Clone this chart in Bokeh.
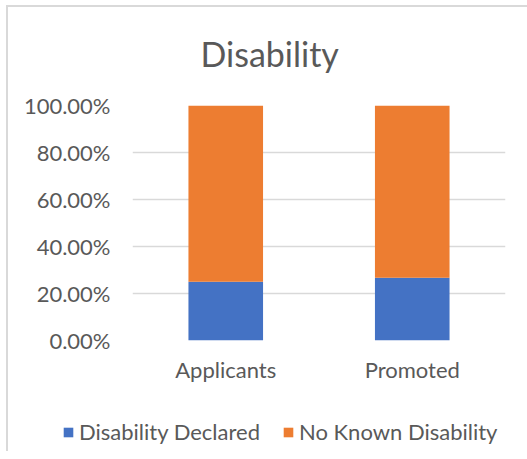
from bokeh.plotting import figure
from bokeh.layouts import column, row
from bokeh.models import NumeralTickFormatter, Legend, LegendItem, FixedTicker, Range1d, Label
from bokeh.embed import file_html
from bokeh.resources import INLINE

categories = ["Applicants", "Promoted"]
declared = [0.25, 0.267]
no_known = [0.75, 0.733]
series = ["Disability Declared", "No Known Disability"]
colors = ["#4472C4", "#ED7D31"]
y_ticks = [0, 0.2, 0.4, 0.6, 0.8, 1.0]
title_text = "Disability"

FONT = "Lato"
TXT = "#595959"

data = {"cat": categories, "Disability Declared": declared, "No Known Disability": no_known}

# title strip
pt = figure(x_range=Range1d(0, 1), y_range=Range1d(0, 1), width=519, height=70,
            output_backend="svg", toolbar_location=None,
            min_border=0, min_border_left=0, min_border_right=0,
            min_border_top=0, min_border_bottom=0, outline_line_color=None)
pt.axis.visible = False
pt.grid.visible = False
pt.add_layout(Label(x=192, y=24, x_units="screen", y_units="screen", text=title_text,
                    text_font=FONT, text_font_size="34px", text_color=TXT,
                    text_align="left", text_baseline="middle"))

# main chart
p = figure(x_range=categories, y_range=Range1d(0, 1), width=519, height=323,
           output_backend="svg", toolbar_location=None,
           min_border_left=124, min_border_right=22, min_border_top=28, min_border_bottom=60)

p.vbar_stack(series, x="cat", width=0.4, color=colors, source=data, line_color=None)

p.outline_line_color = None
p.xgrid.grid_line_color = None
p.ygrid.grid_line_color = "#d9d9d9"
p.ygrid.grid_line_width = 1.5
p.yaxis.ticker = FixedTicker(ticks=y_ticks)
p.yaxis.formatter = NumeralTickFormatter(format="0.00%")

for ax in (p.xaxis, p.yaxis):
    ax.axis_line_color = None
    ax.major_tick_line_color = None
    ax.minor_tick_line_color = None
    ax.major_label_text_font = FONT
    ax.major_label_text_font_size = "22px"
    ax.major_label_text_color = TXT
p.yaxis.major_label_standoff = 16
p.xaxis.major_label_standoff = 9

# legend strip below the chart
pl = figure(x_range=categories, y_range=Range1d(10, 11), width=519, height=51,
            output_backend="svg", toolbar_location=None,
            min_border=0, min_border_left=0, min_border_right=0,
            min_border_top=0, min_border_bottom=0, outline_line_color=None)
pl.axis.visible = False
pl.grid.visible = False
leg_renderers = pl.vbar_stack(series, x="cat", width=0.4, color=colors, source=data, line_color=None)

legend = Legend(items=[LegendItem(label=s, renderers=[r]) for s, r in zip(series, leg_renderers)],
                orientation="horizontal", location=(54, 6),
                label_text_font=FONT, label_text_font_size="22px", label_text_color=TXT,
                glyph_width=12, glyph_height=12, spacing=22, label_standoff=5,
                padding=0, margin=0,
                border_line_color=None, background_fill_alpha=0)
pl.add_layout(legend, "center")

layout = column(row(pt), p, row(pl), spacing=0,
                styles={"border-top": "2px solid #d9d9d9", "border-left": "2px solid #d9d9d9",
                        "margin-left": "6px", "margin-top": "5px"})

open("out.html", "w").write(file_html(layout, INLINE))
